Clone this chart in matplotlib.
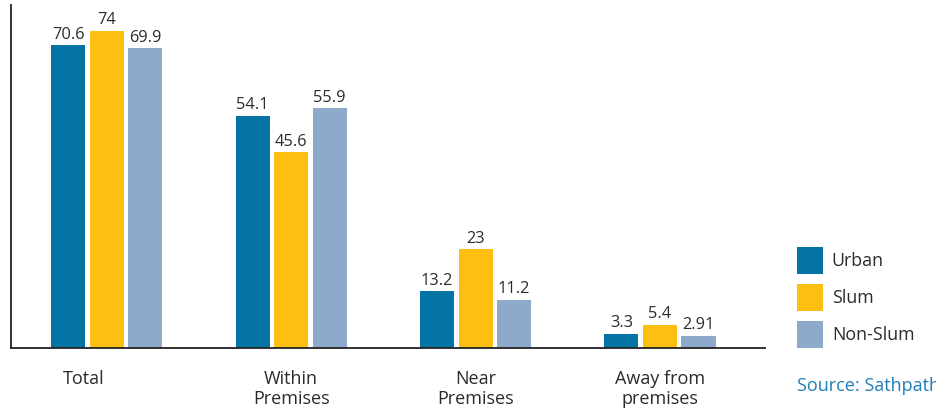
import matplotlib
matplotlib.use("Agg")
import matplotlib.pyplot as plt
from matplotlib.transforms import ScaledTranslation
import numpy as np

categories = ["Total", "Within\nPremises", "Near\nPremises", "Away from\npremises"]
series_names = ["Urban", "Slum", "Non-Slum"]
urban = [70.6, 54.1, 13.2, 3.3]
slum = [74, 45.6, 23, 5.4]
non_slum = [69.9, 55.9, 11.2, 2.91]
value_labels = [["70.6", "54.1", "13.2", "3.3"],
                ["74", "45.6", "23", "5.4"],
                ["69.9", "55.9", "11.2", "2.91"]]
colors = ["#0673A5", "#FDBF12", "#8EAACB"]

plt.rcParams['font.family'] = ['Open Sans', 'DejaVu Sans']
text_color = "#2b2b2b"

W, H = 936, 411
fig = plt.figure(figsize=(W / 100, H / 100), dpi=100)
ax = fig.add_axes([11 / W, (H - 348) / H, (765 - 11) / W, (348 - 5) / H])

x = np.arange(len(categories))
width = 0.185
step = 0.209
bars = []
for i, (vals, name, col) in enumerate(zip([urban, slum, non_slum], series_names, colors)):
    b = ax.bar(x + (i - 1) * step, vals, width, color=col, label=name, zorder=2)
    bars.append(b)
    for rect, lab in zip(b, value_labels[i]):
        ax.annotate(lab, (rect.get_x() + rect.get_width() / 2, rect.get_height()),
                    xytext=(0, 2), textcoords="offset points", ha="center", va="bottom",
                    fontsize=11.8, color=text_color)

ax.set_xlim(-0.52, 3.57)
ax.set_ylim(0, 80)
ax.set_yticks([])
ax.set_xticks(x)
ax.set_xticklabels(categories, fontsize=13, color=text_color, linespacing=1.1)
ax.tick_params(axis="x", length=0, pad=16)
# the "Total" label sits left of its group in the reference
lbl0 = ax.get_xticklabels()[0]
lbl0.set_transform(lbl0.get_transform() + ScaledTranslation(-23 / 100, 0, fig.dpi_scale_trans))
for s in ["top", "right"]:
    ax.spines[s].set_visible(False)
for s in ["left", "bottom"]:
    ax.spines[s].set_color("#222222")
    ax.spines[s].set_linewidth(1.3)

fs = 12.8
fig.legend(handles=bars, labels=series_names, loc="upper left",
           bbox_to_anchor=(797 / W, 1 - 247 / H), frameon=False, fontsize=fs,
           handlelength=1.46, handleheight=1.96, labelspacing=0.56, handletextpad=0.5,
           borderpad=0, borderaxespad=0, labelcolor=text_color)

fig.text(797 / W, 1 - 386 / H, "Source: Sathpath", fontsize=13, color="#1F7DB8",
         ha="left", va="center")

fig.savefig("out.png", dpi=100)
